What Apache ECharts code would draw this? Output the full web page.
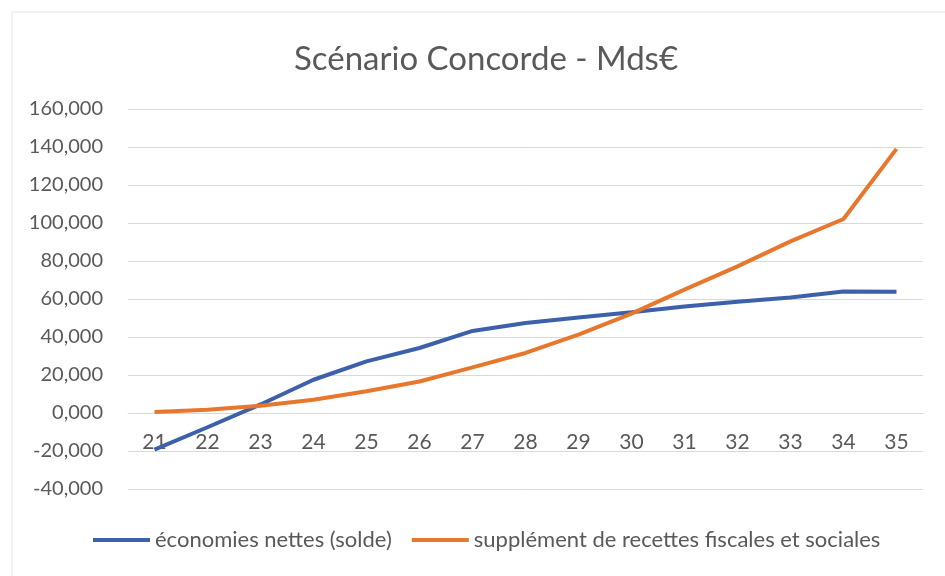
<!DOCTYPE html>
<html>
<head>
<meta charset="utf-8">
<script src="https://cdn.jsdelivr.net/npm/echarts@6/dist/echarts.min.js"></script>
<style>
html,body{margin:0;padding:0;background:#fff;}
#chart{width:945px;height:576px;}
</style>
</head>
<body>
<div id="chart"></div>
<script>
const categories = ['21','22','23','24','25','26','27','28','29','30','31','32','33','34','35'];
const economiesNettes = [-19.3, -7.5, 4.5, 17.5, 27.2, 34.2, 43.2, 47.4, 50.3, 53.0, 56.0, 58.6, 60.8, 64.0, 63.8];
const supplementRecettes = [0.5, 1.7, 3.8, 7.0, 11.4, 16.6, 24.0, 31.6, 41.2, 52.3, 64.9, 77.2, 90.3, 102.1, 139.0];
const seriesNames = ['économies nettes (solde)', 'supplément de recettes fiscales et sociales'];
const titleText = 'Scénario Concorde - Mds€';

const chart = echarts.init(document.getElementById('chart'));
const font = 'Lato, "Open Sans", sans-serif';
chart.setOption({
  animation: false,
  backgroundColor: '#ffffff',
  graphic: [
    {type: 'line', shape: {x1: 12, y1: 12, x2: 945, y2: 12}, style: {stroke: '#e4e4dc', lineWidth: 1}, silent: true},
    {type: 'line', shape: {x1: 12, y1: 12, x2: 12, y2: 576}, style: {stroke: '#e4e4dc', lineWidth: 1}, silent: true}
  ],
  title: {
    text: titleText,
    left: 481,
    textAlign: 'center',
    top: 38,
    textStyle: {fontFamily: font, fontSize: 33, fontWeight: 'normal', color: '#595959'}
  },
  legend: {
    bottom: 20,
    left: 88,
    itemWidth: 57,
    itemHeight: 4,
    itemGap: 20,
    icon: 'rect',
    textStyle: {fontFamily: font, fontSize: 22, color: '#595959'},
    data: seriesNames
  },
  grid: {left: 128, right: 22, top: 109, bottom: 87},
  xAxis: {
    type: 'category',
    data: categories,
    boundaryGap: true,
    offset: -76,
    axisLine: {onZero: false, lineStyle: {color: '#d9d9d9', width: 1}},
    axisTick: {show: false},
    axisLabel: {fontFamily: font, fontSize: 21, color: '#595959', margin: 19}
  },
  yAxis: {
    type: 'value',
    min: -40,
    max: 160,
    interval: 20,
    axisLine: {show: false},
    axisTick: {show: false},
    splitLine: {lineStyle: {color: '#d9d9d9', width: 1}},
    axisLabel: {
      fontFamily: font, fontSize: 20, color: '#595959', margin: 25,
      formatter: v => v.toFixed(3).replace('.', ',')
    }
  },
  series: [
    {
      name: seriesNames[0], type: 'line', data: economiesNettes,
      showSymbol: false, symbol: 'none',
      lineStyle: {width: 4, color: '#3c60aa'}, itemStyle: {color: '#3c60aa'}
    },
    {
      name: seriesNames[1], type: 'line', data: supplementRecettes,
      showSymbol: false, symbol: 'none',
      lineStyle: {width: 4, color: '#e8772e'}, itemStyle: {color: '#e8772e'}
    }
  ]
});
</script>
</body>
</html>
